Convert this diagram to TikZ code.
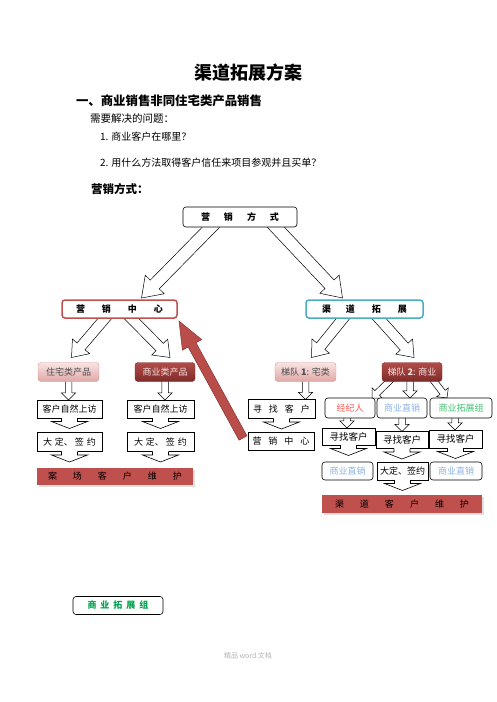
\documentclass[tikz,border=0pt]{standalone}
\usepackage{fontspec}
\setmainfont{Noto Sans CJK SC}
\usepackage{tikz}
\usetikzlibrary{calc,shapes.arrows,shadows,backgrounds}

\definecolor{yxred}{HTML}{C0504D}
\definecolor{qdblue}{HTML}{4BACC6}
\definecolor{pinktop}{HTML}{F8E4E3}
\definecolor{pinkbot}{HTML}{DFA8A6}
\definecolor{pinkline}{HTML}{D99694}
\definecolor{darktop}{HTML}{B24C49}
\definecolor{darkbot}{HTML}{7E2B29}
\definecolor{barred}{HTML}{C0504D}
\definecolor{arrowred}{HTML}{B84D4A}
\definecolor{arrowdark}{HTML}{8A3432}
\definecolor{jjrred}{HTML}{FF5A5A}
\definecolor{zxblue}{HTML}{8DB3E2}
\definecolor{tzgreen}{HTML}{3DC46E}
\definecolor{zgreen}{HTML}{00A550}

% block arrow from one point to another
\newcommand{\blockarrow}[4][bigarr]{%
  \path let \p1=#3, \p2=#4, \n1={atan2(\y2-\y1,\x2-\x1)}, \n2={veclen(\x2-\x1,\y2-\y1)} in
    node[#1, minimum height=\n2, rotate=\n1, anchor=tip] (#2) at (\p2) {};}
% arrow shaped pointer under a box
\newcommand{\pointer}[1]{%
  \fill[white] ([xshift=-8pt,yshift=0.5pt]#1.south) -- ++(0,4) -- ++(-10,0) -- ++(18,7) -- ++(18,-7) -- ++(-10,0) -- ++(0,-4) -- cycle;
  \draw[line width=0.6pt,line join=miter] ([xshift=-8pt]#1.south) -- ++(0,3.5) -- ++(-10,0) -- ++(18,7) -- ++(18,-7) -- ++(-10,0) -- ++(0,-3.5);}

\begin{document}
\begin{tikzpicture}[x=1pt,y=-1pt]
\tikzstyle{every node}=[font=\fontsize{9}{10}\selectfont, inner sep=0pt, outer sep=0pt];
\tikzstyle{plainbox}=[draw, fill=white, line width=0.6pt, minimum height=18pt];
\tikzstyle{roundbox}=[plainbox, rounded corners=3pt];
\tikzstyle{pinkbox}=[draw=pinkline, top color=pinktop, bottom color=pinkbot, rounded corners=3pt, minimum height=19pt, text=black!70];
\tikzstyle{darkbox}=[draw=darkbot, top color=darktop, bottom color=darkbot, rounded corners=3pt, minimum height=19pt, text=pinktop];
\tikzstyle{redbar}=[fill=barred, minimum height=17pt, drop shadow={shadow xshift=1.5pt, shadow yshift=-1.5pt, opacity=0.25}];
\tikzstyle{hollowarr}=[single arrow, draw, fill=white, line width=0.5pt, inner sep=0pt, text depth=0pt, minimum width=0pt, single arrow head indent=0pt];
\tikzstyle{bigarr}=[hollowarr, text height=12pt, single arrow head extend=7pt, single arrow tip angle=70];
\tikzstyle{midarr}=[hollowarr, text height=10pt, single arrow head extend=6pt, single arrow tip angle=75];
\tikzstyle{smallarr}=[hollowarr, text height=6pt, single arrow head extend=4pt, single arrow tip angle=90];
\tikzstyle{redarr}=[single arrow, fill=arrowred, draw=arrowdark, line width=0.5pt, inner sep=0pt, text height=8.5pt, text depth=0pt, minimum width=0pt, single arrow head extend=6.5pt, single arrow tip angle=44];

\useasboundingbox (0,0) rectangle (496,702);

% text
\node[font=\bfseries\fontsize{18}{20}\selectfont] (title) at (248,73) {渠道拓展方案};
\node[anchor=west, font=\bfseries\fontsize{12.4}{14}\selectfont] (head) at (76,101) {一、商业销售非同住宅类产品销售};
\node[anchor=west, font=\fontsize{10.5}{12}\selectfont] (ask) at (90,119) {需要解决的问题：};
\node[anchor=west, font=\fontsize{10}{12}\selectfont] (ask1) at (100,137) {1. 商业客户在哪里？};
\node[anchor=west, font=\fontsize{10}{12}\selectfont] (ask2) at (100,163) {2. 用什么方法取得客户信任来项目参观并且买单？};
\node[anchor=west, font=\bfseries\fontsize{11.5}{13}\selectfont] (way) at (91,189) {营销方式：};

% boxes
\node[roundbox, minimum width=114pt, minimum height=20pt] (yxfs) at (240,217) {\bfseries 营\hspace{14pt}销\hspace{14pt}方\hspace{14pt}式};
\node[roundbox, draw=yxred, line width=1.5pt, minimum width=115pt] (yxzx) at (119.5,309) {\bfseries 营\hspace{17pt}销\hspace{17pt}中\hspace{17pt}心};
\node[roundbox, draw=qdblue, line width=1.5pt, minimum width=117pt] (qdtz) at (364.5,309) {\bfseries 渠\hspace{15pt}道\hspace{17pt}拓\hspace{17pt}展};

\node[pinkbox, minimum width=61pt] (zzcp) at (68.5,372) {住宅类产品};
\node[darkbox, minimum width=60pt] (sycp) at (165,372) {商业类产品};
\node[pinkbox, minimum width=61pt] (tdone) at (305.5,372) {梯队 \textbf{1}: 宅类};
\node[darkbox, minimum width=60pt] (tdtwo) at (412,372) {梯队 \textbf{2}: 商业};

\node[plainbox, minimum width=65pt] (zrsfa) at (69.5,409) {客户自然上访};
\node[plainbox, minimum width=67pt] (zrsfb) at (160.5,409) {客户自然上访};
\node[plainbox, minimum width=65pt, minimum height=19pt] (dda) at (69.5,442) {大\hspace{3pt}定、\hspace{2pt}签\hspace{3pt}约};
\node[plainbox, minimum width=67pt, minimum height=19pt] (ddb) at (160.5,442) {大\hspace{3pt}定、\hspace{2pt}签\hspace{3pt}约};
\node[redbar, minimum width=156pt] (acwh) at (115,476.5) {案\hspace{16pt}场\hspace{16pt}客\hspace{16pt}户\hspace{16pt}维\hspace{16pt}护};

\node[plainbox, minimum width=67pt, minimum height=19pt] (xzkh) at (281.5,409) {寻\hspace{7pt}找\hspace{7pt}客\hspace{7pt}户};
\node[plainbox, line width=1pt, minimum width=66pt] (yxzxb) at (281,441) {营\hspace{7pt}销\hspace{7pt}中\hspace{7pt}心};

\node[roundbox, minimum width=50pt, minimum height=20pt, text=jjrred] (jjr) at (350,408) {经纪人};
\node[roundbox, minimum width=50pt, minimum height=20pt, text=zxblue] (syzxa) at (402,408) {商业直销};
\node[roundbox, minimum width=62pt, minimum height=20pt, text=tzgreen] (sytz) at (461,408) {商业拓展组};

\node[plainbox, minimum width=53pt, minimum height=17pt, font=\fontsize{9.5}{10}\selectfont] (xzkha) at (348.5,436.5) {寻找客户};
\node[plainbox, minimum width=52pt, minimum height=17pt, font=\fontsize{9.5}{10}\selectfont] (xzkhb) at (402,440) {寻找客户};
\node[plainbox, minimum width=53pt, minimum height=18pt, font=\fontsize{9.5}{10}\selectfont] (xzkhc) at (455.5,439) {寻找客户};

\node[roundbox, minimum width=51pt, text=zxblue] (syzxb) at (347.5,471) {商业直销};
\node[plainbox, minimum width=51pt] (ddc) at (402.5,471) {大定、签约};
\node[roundbox, minimum width=52pt, text=zxblue] (syzxc) at (456,471) {商业直销};
\node[redbar, minimum width=160pt, minimum height=18pt] (qdwh) at (402,504) {渠\hspace{16pt}道\hspace{16pt}客\hspace{16pt}户\hspace{16pt}维\hspace{16pt}护};

\node[roundbox, minimum width=90pt, text=zgreen] (sytzb) at (118,605.5) {\bfseries 商\hspace{4pt}业\hspace{4pt}拓\hspace{4pt}展\hspace{4pt}组};

\node[text=black!30, font=\fontsize{7}{8}\selectfont] (foot) at (248,656) {精品 word 文档};

% hollow arrows behind the boxes
\begin{pgfonlayer}{background}
\blockarrow[bigarr]{bl}{([xshift=-23pt,yshift=6pt]yxfs.south)}{([xshift=22pt,yshift=2pt]yxzx.north)}
\blockarrow[bigarr]{br}{([xshift=30pt,yshift=6pt]yxfs.south)}{([xshift=-22pt,yshift=2pt]qdtz.north)}
\blockarrow[midarr]{ma}{([xshift=-10pt,yshift=5pt]yxzx.south)}{([xshift=3pt,yshift=5pt]zzcp.north)}
\blockarrow[midarr]{mb}{([xshift=6.5pt,yshift=5pt]yxzx.south)}{([xshift=5pt,yshift=5pt]sycp.north)}
\blockarrow[midarr]{mc}{([xshift=-17pt,yshift=5pt]qdtz.south)}{([xshift=6pt,yshift=5pt]tdone.north)}
\blockarrow[midarr]{md}{([xshift=9.5pt,yshift=5pt]qdtz.south)}{([xshift=2pt,yshift=5pt]tdtwo.north)}
\blockarrow[smallarr]{sa}{([yshift=3pt]zzcp.south)}{(zzcp.south |- zrsfa.north)}
\blockarrow[smallarr]{sb}{([yshift=3pt]sycp.south)}{(sycp.south |- zrsfb.north)}
\blockarrow[smallarr]{sc}{([yshift=3pt]tdone.south)}{(tdone.south |- xzkh.north)}
\blockarrow[smallarr]{sd}{([xshift=-20pt,yshift=3pt]tdtwo.south)}{([xshift=-3pt]jjr.north east)}
\blockarrow[smallarr]{se}{([xshift=-2pt,yshift=3pt]tdtwo.south)}{([xshift=8pt]syzxa.north)}
\blockarrow[smallarr]{sf}{([xshift=20pt,yshift=3pt]tdtwo.south)}{([xshift=17pt]sytz.north west)}
\blockarrow[smallarr]{sg}{([xshift=-3pt,yshift=3pt]jjr.south)}{([xshift=-3pt]jjr.south |- xzkha.north)}
\blockarrow[smallarr]{sh}{([yshift=3pt]syzxa.south)}{(syzxa.south |- xzkhb.north)}
\blockarrow[smallarr]{si}{([xshift=-6pt,yshift=3pt]sytz.south)}{([xshift=-6pt]sytz.south |- xzkhc.north)}
\end{pgfonlayer}

% pointers
\pointer{zrsfa}
\pointer{zrsfb}
\pointer{dda}
\pointer{ddb}
\pointer{xzkh}
\pointer{xzkha}
\pointer{xzkhb}
\pointer{xzkhc}
\pointer{ddc}

% red arrow back to the sales centre
\blockarrow[redarr]{back}{([xshift=-5pt,yshift=3pt]yxzxb.west)}{([xshift=2pt,yshift=-3pt]yxzx.south east)}
\end{tikzpicture}
\end{document}
